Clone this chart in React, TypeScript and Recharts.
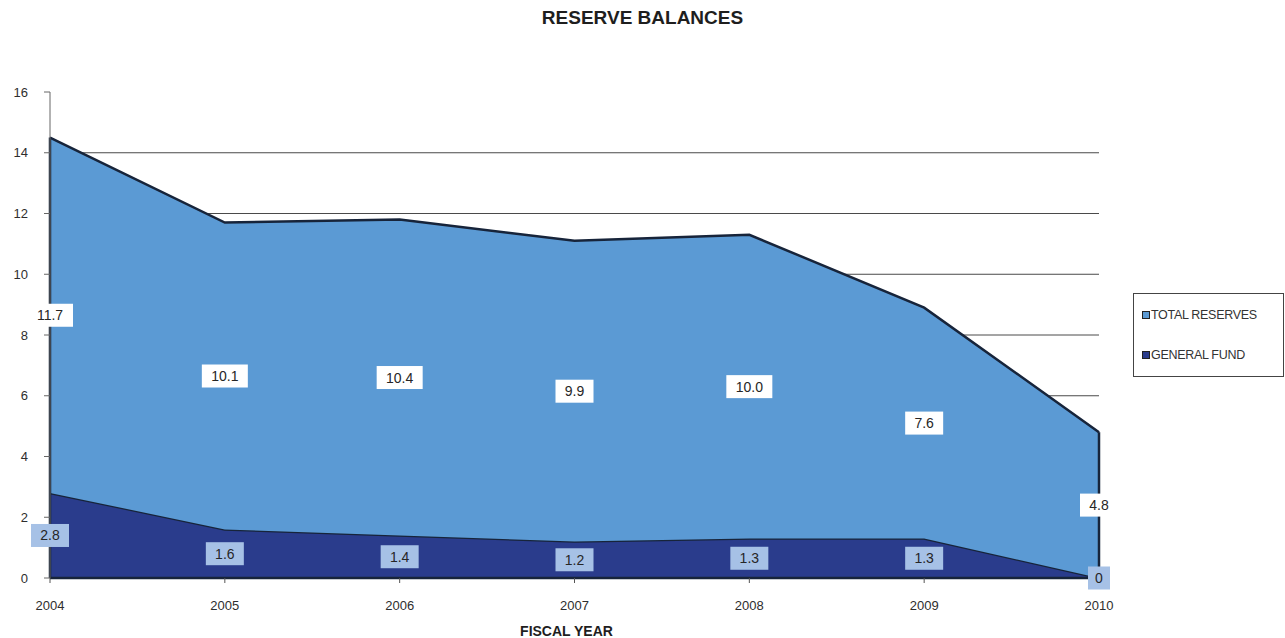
import React from "react";
import {
  ComposedChart,
  Area,
  Line,
  XAxis,
  YAxis,
  CartesianGrid,
  LabelList,
  ReferenceLine,
} from "recharts";

// Reserve balances by fiscal year (millions)
const years = ["2004", "2005", "2006", "2007", "2008", "2009", "2010"];
const generalFund = [2.8, 1.6, 1.4, 1.2, 1.3, 1.3, 0];
const totalReserves = [11.7, 10.1, 10.4, 9.9, 10.0, 7.6, 4.8];
const yTicks = [0, 2, 4, 6, 8, 10, 12, 14, 16];
const gridValues = [2, 4, 6, 8, 10, 12, 14];

const data = years.map((year, i) => ({
  year,
  generalFund: generalFund[i],
  totalReserves: totalReserves[i],
  // midpoints of each stacked band, used to place the value boxes
  gfMid: generalFund[i] / 2,
  resMid: generalFund[i] + totalReserves[i] / 2,
  stackTop: generalFund[i] + totalReserves[i],
}));

const FONT = "'Liberation Sans', Arial, Helvetica, sans-serif";
const RES_FILL = "#5b9ad4";
const GF_FILL = "#2a3c8c";
const EDGE = "#17243a";

const fmt = (v: number) => (v === 0 ? "0" : v.toFixed(1));

const makeBoxLabel = (bg: string) => (props: any) => {
  const { x, y, value } = props;
  if (x == null || y == null || value == null) return null;
  const text = fmt(Number(value));
  const w = text.length * 8 + 14;
  const h = 23;
  return (
    <g>
      <rect x={x - w / 2} y={y - h / 2} width={w} height={h} fill={bg} />
      <text
        x={x}
        y={y + 5}
        textAnchor="middle"
        fontFamily={FONT}
        fontSize={14}
        fill="#262626"
      >
        {text}
      </text>
    </g>
  );
};

const first = data[0];
const last = data[data.length - 1];

export default function App() {
  return (
    <div
      style={{
        position: "absolute",
        left: 0,
        top: 0,
        width: 1285,
        height: 638,
        background: "#fff",
        fontFamily: FONT,
      }}
    >
      <div
        style={{
          position: "absolute",
          left: 0,
          top: 7,
          width: 1285,
          textAlign: "center",
          fontWeight: "bold",
          fontSize: 19,
          color: "#1e1e1e",
        }}
      >
        RESERVE BALANCES
      </div>

      <ComposedChart
        width={1285}
        height={638}
        data={data}
        margin={{ top: 92, right: 186, bottom: 2, left: 0 }}
      >
        <CartesianGrid
          horizontal
          vertical={false}
          horizontalValues={gridValues}
          stroke="#4a4a4a"
          strokeWidth={1}
        />
        <XAxis
          dataKey="year"
          height={58}
          tickSize={5}
          tickMargin={18}
          axisLine={{ stroke: EDGE, strokeWidth: 2.5 }}
          tickLine={{ stroke: "#555" }}
          tick={{ fill: "#2e2e2e", fontSize: 13, fontFamily: FONT }}
          interval={0}
          label={{
            value: "FISCAL YEAR",
            position: "insideBottom",
            offset: 0,
            dx: -8,
            fill: "#1e1e1e",
            fontSize: 14,
            fontWeight: "bold",
            fontFamily: FONT,
          }}
        />
        <YAxis
          width={50}
          domain={[0, 16]}
          ticks={yTicks}
          tickSize={6}
          tickMargin={16}
          axisLine={{ stroke: "#666" }}
          tickLine={{ stroke: "#666" }}
          tick={{ fill: "#2e2e2e", fontSize: 13, fontFamily: FONT }}
          interval={0}
        />
        <Area
          type="linear"
          dataKey="generalFund"
          name="GENERAL FUND"
          stackId="r"
          fill={GF_FILL}
          fillOpacity={1}
          stroke={EDGE}
          strokeWidth={2.5}
          isAnimationActive={false}
        />
        <Area
          type="linear"
          dataKey="totalReserves"
          name="TOTAL RESERVES"
          stackId="r"
          fill={RES_FILL}
          fillOpacity={1}
          stroke={EDGE}
          strokeWidth={2.5}
          isAnimationActive={false}
        />
        <ReferenceLine
          segment={[
            { x: first.year, y: 0 },
            { x: first.year, y: first.stackTop },
          ]}
          stroke={EDGE}
          strokeWidth={2.5}
        />
        <ReferenceLine
          segment={[
            { x: last.year, y: 0 },
            { x: last.year, y: last.stackTop },
          ]}
          stroke={EDGE}
          strokeWidth={2.5}
        />
        <Line
          dataKey="resMid"
          stroke="none"
          dot={false}
          activeDot={false}
          legendType="none"
          isAnimationActive={false}
        >
          <LabelList dataKey="totalReserves" content={makeBoxLabel("#ffffff")} />
        </Line>
        <Line
          dataKey="gfMid"
          stroke="none"
          dot={false}
          activeDot={false}
          legendType="none"
          isAnimationActive={false}
        >
          <LabelList dataKey="generalFund" content={makeBoxLabel("#a6c1e6")} />
        </Line>
      </ComposedChart>

      <div
        style={{
          position: "absolute",
          left: 1133,
          top: 293,
          width: 151,
          height: 84,
          boxSizing: "border-box",
          border: "1px solid #444",
          background: "#fff",
          fontSize: 12.5,
          color: "#333",
        }}
      >
        {[
          { name: "TOTAL RESERVES", color: RES_FILL, top: 14 },
          { name: "GENERAL FUND", color: GF_FILL, top: 54 },
        ].map((e) => (
          <div
            key={e.name}
            style={{
              position: "absolute",
              left: 8,
              top: e.top,
              display: "flex",
              alignItems: "center",
              whiteSpace: "nowrap",
              letterSpacing: -0.3,
            }}
          >
            <span
              style={{
                display: "inline-block",
                width: 6,
                height: 6,
                background: e.color,
                border: "1px solid #222",
                marginRight: 1,
              }}
            />
            <span>{e.name}</span>
          </div>
        ))}
      </div>
    </div>
  );
}
